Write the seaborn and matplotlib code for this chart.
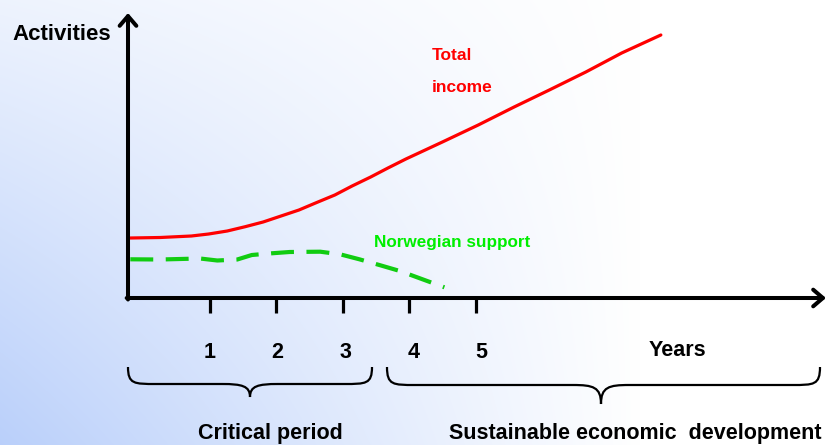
import numpy as np
import pandas as pd
import seaborn as sns
import matplotlib.pyplot as plt
from matplotlib.path import Path
from matplotlib.patches import PathPatch

# values (x in years, y in arbitrary activity units)
income_years = [-0.20, 0.25, 0.72, 0.98, 1.26, 1.53, 1.80, 2.07, 2.34, 2.60,
                2.88, 3.14, 3.42, 3.68, 3.95, 4.50, 5.04, 5.58, 6.11, 6.66, 7.20, 7.79]
income = [60, 60.5, 62, 64, 67, 71.3, 76, 82, 88, 95.3,
          103, 112, 121, 130, 139, 156, 173, 191, 208, 226, 245, 263]

support_years = [-0.20, 0.25, 0.85, 1.11, 1.41, 1.63, 1.93, 2.20, 2.66, 2.96,
                 3.25, 3.55, 3.86, 4.16, 4.53]
support = [38.7, 38.5, 39.5, 37.5, 38.5, 43, 44.7, 46, 46.3, 43.7, 38.7, 33, 27, 19.7, 10.7]

tick_years = [1, 2, 3, 4, 5]
tick_labels = ["1", "2", "3", "4", "5"]

W, H = 827, 445
X0, XS = 143.6, 66.4          # pixel of year 0, pixels per year
Y0 = 298                       # pixel row of value 0

sns.set_theme(style="white")
plt.rcParams['font.family'] = ['Liberation Sans', 'DejaVu Sans']
plt.rcParams['text.color'] = 'black'

fig = plt.figure(figsize=(W / 100, H / 100), dpi=100)

# background gradient, also used for pixel-placed decorations
bg = fig.add_axes([0, 0, 1, 1], zorder=0)
gx, gy = np.meshgrid(np.arange(W), np.arange(H))
t = np.clip(0.95 * (1 - gx / 640), 0, 1) * (0.25 + 0.75 * gy / H)
t = np.clip(t, 0, 1)[..., None]
blue = np.array([182, 205, 250]) / 255
img = (1 - t) * np.ones(3) + t * blue
bg.imshow(img, extent=[0, W, H, 0], aspect='auto')
bg.set_xlim(0, W)
bg.set_ylim(H, 0)
bg.axis('off')

ax = fig.add_axes([0, 0, 1, 1], zorder=1)
ax.patch.set_alpha(0)
ax.set_xlim(-X0 / XS, (W - X0) / XS)
ax.set_ylim(Y0 - H, Y0)
ax.axis('off')

df_inc = pd.DataFrame({"year": income_years, "value": income})
df_sup = pd.DataFrame({"year": support_years, "value": support})
sns.lineplot(data=df_inc, x="year", y="value", ax=ax, color="#ff0000",
             lw=2.3, estimator=None, sort=False, solid_joinstyle='round')
sns.lineplot(data=df_sup, x="year", y="value", ax=ax, color="#11cc11",
             lw=3.0, estimator=None, sort=False, dashes=False)
ax.lines[-1].set_dashes([5.5, 3.0])

# axes with arrow heads
ox = (128 - X0) / XS
arrow = dict(arrowstyle='->,head_length=0.35,head_width=0.3', lw=2.9,
             color='black', shrinkA=0, shrinkB=0, mutation_scale=20)
ax.annotate('', xy=((826 - X0) / XS, 0), xytext=(ox - 0.02, 0), arrowprops=arrow)
ax.annotate('', xy=(ox, Y0 - 13), xytext=(ox, -1.5), arrowprops=arrow)
for yr, lab in zip(tick_years, tick_labels):
    ax.plot([yr, yr], [0, -15], color='black', lw=2.3, solid_capstyle='butt')
    ax.text(yr + 0.02 * (yr - 1), -54, lab, ha='center', va='center',
            fontsize=15.5, fontweight='bold')

bg.text(12, 34, "Activities", ha='left', va='center', fontsize=16, fontweight='bold')
bg.text(677, 351, "Years", ha='center', va='center', fontsize=15.5, fontweight='bold')
bg.text(432, 55, "Total", ha='left', va='center', fontsize=12.5,
        fontweight='bold', color='#ff0000')
bg.text(432, 88, "income", ha='left', va='center', fontsize=12.5,
        fontweight='bold', color='#ff0000')
bg.text(374, 242, "Norwegian support", ha='left', va='center', fontsize=12.3,
        fontweight='bold', color='#00ee00')
bg.text(270, 433, "Critical period", ha='center', va='center', fontsize=15.5,
        fontweight='bold')
bg.text(635, 433, "Sustainable economic  development", ha='center', va='center',
        fontsize=15.5, fontweight='bold')


def brace(x0, x1, xm, ytop, ybar, ytip):
    v = [(x0, ytop), (x0, ybar), (x0 + 6, ybar), (x0 + 28, ybar),
         (xm - 28, ybar),
         (xm - 8, ybar), (xm, ybar + 2), (xm, ytip),
         (xm, ybar + 2), (xm + 8, ybar), (xm + 28, ybar),
         (x1 - 28, ybar),
         (x1 - 6, ybar), (x1, ybar), (x1, ytop)]
    c = [Path.MOVETO, Path.CURVE4, Path.CURVE4, Path.CURVE4,
         Path.LINETO,
         Path.CURVE4, Path.CURVE4, Path.CURVE4,
         Path.CURVE4, Path.CURVE4, Path.CURVE4,
         Path.LINETO,
         Path.CURVE4, Path.CURVE4, Path.CURVE4]
    bg.add_patch(PathPatch(Path(v, c), fill=False, lw=1.6, color='black'))


brace(128, 372, 250, 367, 384, 397)
brace(387, 820, 601, 367, 385, 404)

fig.savefig("out.png", dpi=100)
